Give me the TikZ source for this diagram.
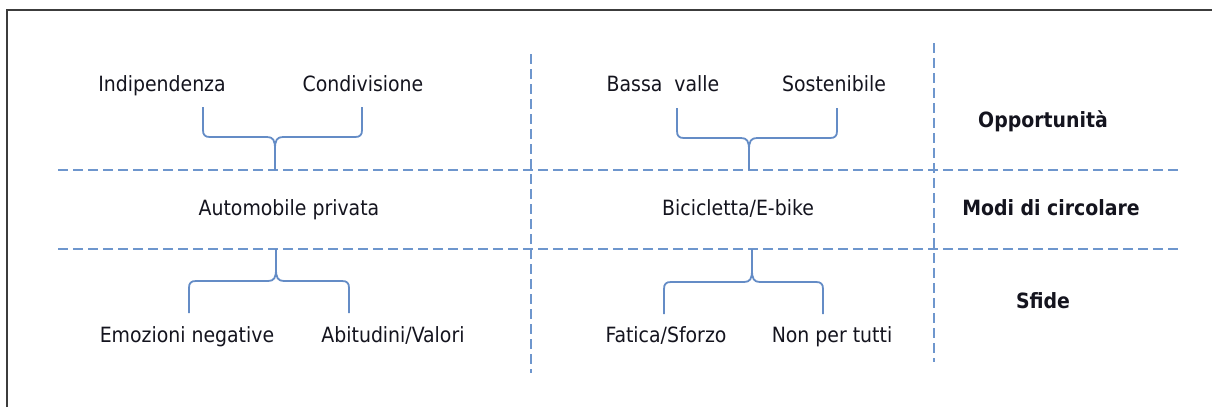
\documentclass[tikz,border=0pt]{standalone}
\usepackage{fontspec}
\setmainfont{DejaVu Sans Condensed}
\definecolor{lineblue}{RGB}{110,150,205}
\definecolor{braceblue}{RGB}{100,140,198}
\definecolor{framegray}{RGB}{60,60,60}
\definecolor{txt}{RGB}{20,20,30}
\newcommand\mybrace[6]{%
  \begin{scope}[shift={#1}, yscale=#2]
    \draw[brace] (-#3,-#6) -- (-#3,-#5-7) .. controls (-#3,-#5-2) and (-#3+2,-#5) .. (-#3+7,-#5)
      -- (-8,-#5) .. controls (-2,-#5) and (0,-#5+3) .. (0,-#5+12) -- (0,0);
    \draw[brace] (#4,-#6) -- (#4,-#5-7) .. controls (#4,-#5-2) and (#4-2,-#5) .. (#4-7,-#5)
      -- (8,-#5) .. controls (2,-#5) and (0,-#5+3) .. (0,-#5+12);
  \end{scope}}
\begin{document}
\begin{tikzpicture}[x=1pt,y=-1pt,
  lbl/.style={font=\fontsize{21}{24}\selectfont, text=txt, inner sep=0pt, anchor=base},
  hdr/.style={font=\fontsize{21}{24}\selectfont\bfseries, text=txt, inner sep=0pt, anchor=base},
  gridline/.style={draw=lineblue, line width=2pt, dash pattern=on 10pt off 5pt},
  brace/.style={draw=braceblue, line width=1.8pt, line join=round},
  framing/.style={draw=framegray, line width=1.6pt}]
\useasboundingbox (0,0) rectangle (1212,407);
% frame
\coordinate (fb) at (7,407);
\coordinate (ftl) at (7,10);
\coordinate (ftr) at (1212,10);
\draw[framing] (fb) -- (ftl) -- (ftr);
% grid lines
\coordinate (h1a) at (58,170); \coordinate (h1b) at (1180,170);
\coordinate (h2a) at (58,249); \coordinate (h2b) at (1180,249);
\coordinate (v1a) at (531,54); \coordinate (v1b) at (531,373);
\coordinate (v2a) at (934,43); \coordinate (v2b) at (934,362);
\draw[gridline] (h1a) -- (h1b);
\draw[gridline] (h2a) -- (h2b);
\draw[gridline] (v1a) -- (v1b);
\draw[gridline] (v2a) -- (v2b);
% labels
\node[lbl] (ind) at (162,91) {Indipendenza};
\node[lbl] (cond) at (363,91) {Condivisione};
\node[lbl] (bassa) at (663,91) {Bassa\ \ valle};
\node[lbl] (sost) at (834,91) {Sostenibile};
\node[hdr] (opp) at (1043,127) {Opportunità};
\node[lbl] (auto) at (289,215) {Automobile privata};
\node[lbl] (bici) at (738,215) {Bicicletta/E-bike};
\node[hdr] (modi) at (1051,215) {Modi di circolare};
\node[hdr] (sfide) at (1043,308) {Sfide};
\node[lbl] (emo) at (187,342) {Emozioni negative};
\node[lbl] (abit) at (393,342) {Abitudini/Valori};
\node[lbl] (fat) at (666,342) {Fatica/Sforzo};
\node[lbl] (non) at (832,342) {Non per tutti};
% braces
\coordinate (t1) at (275,170);
\coordinate (t2) at (749,170);
\coordinate (t3) at (276,249);
\coordinate (t4) at (752,249);
\mybrace{(t1)}{1}{72}{87}{33}{63}
\mybrace{(t2)}{1}{72}{88}{32}{62}
\mybrace{(t3)}{-1}{87}{73}{32}{64}
\mybrace{(t4)}{-1}{88}{71}{33}{65}
\end{tikzpicture}
\end{document}
